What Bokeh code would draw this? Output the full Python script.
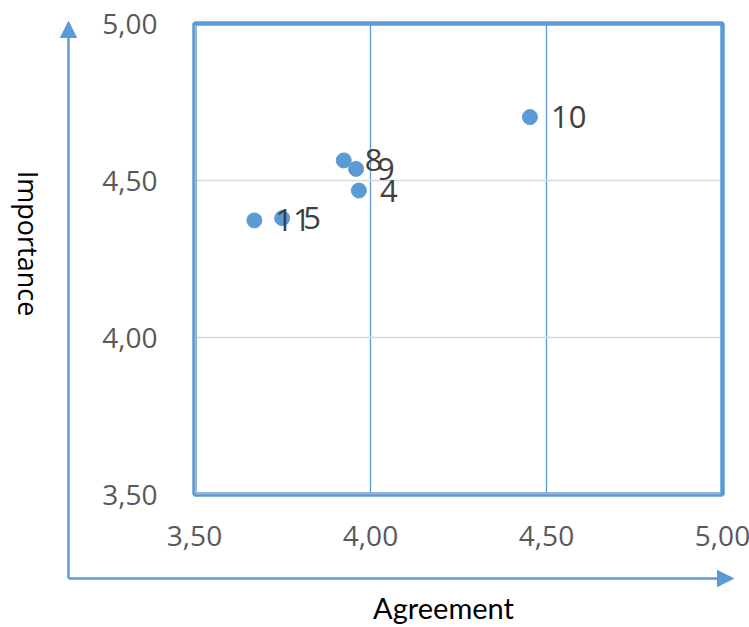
from bokeh.plotting import figure
from bokeh.models import Range1d, ColumnDataSource, Arrow, NormalHead
from bokeh.core.properties import value
from bokeh.embed import file_html
from bokeh.resources import INLINE

# ---- data ----
agreement = [3.670, 3.749, 3.924, 3.959, 3.967, 4.453]
importance = [4.373, 4.380, 4.564, 4.537, 4.468, 4.702]
point_labels = ["11", "5", "8", "9", "4", "10"]
ticks = [3.5, 4.0, 4.5, 5.0]
tick_labels = ["3,50", "4,00", "4,50", "5,00"]
inner_ticks = [4.0, 4.5]
x_title = "Agreement"
y_title = "Importance"

BLUE = "#5B9BD5"
W, H = 749, 627
X0, X1, Y0, Y1 = 3.5, 5.0, 3.5, 5.0
# plot-box placement on the canvas (pixels)
BL, BR, BT, BB = 194, 722, 23, 494
px_x = (X1 - X0) / (BR - BL)
px_y = (Y1 - Y0) / (BB - BT)

p = figure(width=W, height=H, output_backend="svg", toolbar_location=None,
           x_range=Range1d(X0 - BL * px_x, X1 + (W - BR) * px_x),
           y_range=Range1d(Y0 - (H - BB) * px_y, Y1 + BT * px_y),
           min_border=0)
p.axis.visible = False
p.grid.visible = False
p.outline_line_color = None
p.background_fill_color = "white"
p.border_fill_color = "white"

# gridlines
n = len(inner_ticks)
p.segment(x0=inner_ticks, x1=inner_ticks, y0=[Y0] * n, y1=[Y1] * n,
          line_color=BLUE, line_width=1.3)
p.segment(x0=[X0] * n, x1=[X1] * n, y0=inner_ticks, y1=inner_ticks,
          line_color="#D9D9D9", line_width=1.3)

# plot box
p.quad(left=[X0], right=[X1], bottom=[Y0], top=[Y1], fill_color=None,
       line_color=BLUE, line_width=4.5)
p.segment(x0=[X0 + 1 * px_x, X0 + 1 * px_x], x1=[X0 + 1 * px_x, X1 - 2 * px_x],
          y0=[Y0 + 1 * px_y, Y0 + 1 * px_y], y1=[Y1 - 2 * px_y, Y0 + 1 * px_y],
          line_color="#B4B4B4", line_width=1.5)

# tick labels
m = len(ticks)
p.text(x=[X0] * m, y=ticks, text=tick_labels, x_offset=-37,
       text_font=value("Open Sans"), text_font_size="28px", text_color="#595959",
       text_align="right", text_baseline="middle")
p.text(x=ticks, y=[Y0] * m, text=tick_labels, y_offset=41,
       text_font=value("Open Sans"), text_font_size="28px", text_color="#595959",
       text_align="center", text_baseline="middle")

# data
src = ColumnDataSource(dict(x=agreement, y=importance, t=point_labels))
p.scatter("x", "y", source=src, size=15, color=BLUE, line_color=BLUE)
p.text("x", "y", text="t", source=src, x_offset=21, y_offset=0,
       text_font=value("Open Sans"), text_font_size="31px",
       text_color="#404040", text_baseline="middle", text_align="left")

# outer arrows (decoration)
ax_x = X0 - (BL - 68) * px_x
ax_y = Y0 - (578 - BB) * px_y
p.add_layout(Arrow(x_start=ax_x, y_start=ax_y, x_end=ax_x, y_end=Y1 + (BT - 21) * px_y,
                   line_color=BLUE, line_width=2.5,
                   end=NormalHead(size=16, fill_color=BLUE, line_color=BLUE, line_width=1)))
p.add_layout(Arrow(x_start=ax_x, y_start=ax_y, x_end=X1 + (733 - BR) * px_x, y_end=ax_y,
                   line_color=BLUE, line_width=2.5,
                   end=NormalHead(size=16, fill_color=BLUE, line_color=BLUE, line_width=1)))

# axis titles
p.text(x=[X0 + (443 - BL) * px_x], y=[Y0 - (607 - BB) * px_y], text=[x_title],
       text_font=value("Lato"), text_font_size="29px", text_color="black",
       text_align="center", text_baseline="middle")
p.text(x=[X0 - (BL - 28) * px_x], y=[Y1 - (243 - BT) * px_y], text=[y_title],
       angle=-90, angle_units="deg",
       text_font=value("Open Sans"), text_font_size="27px", text_color="black",
       text_align="center", text_baseline="middle")

open("out.html", "w").write(file_html(p, INLINE))
